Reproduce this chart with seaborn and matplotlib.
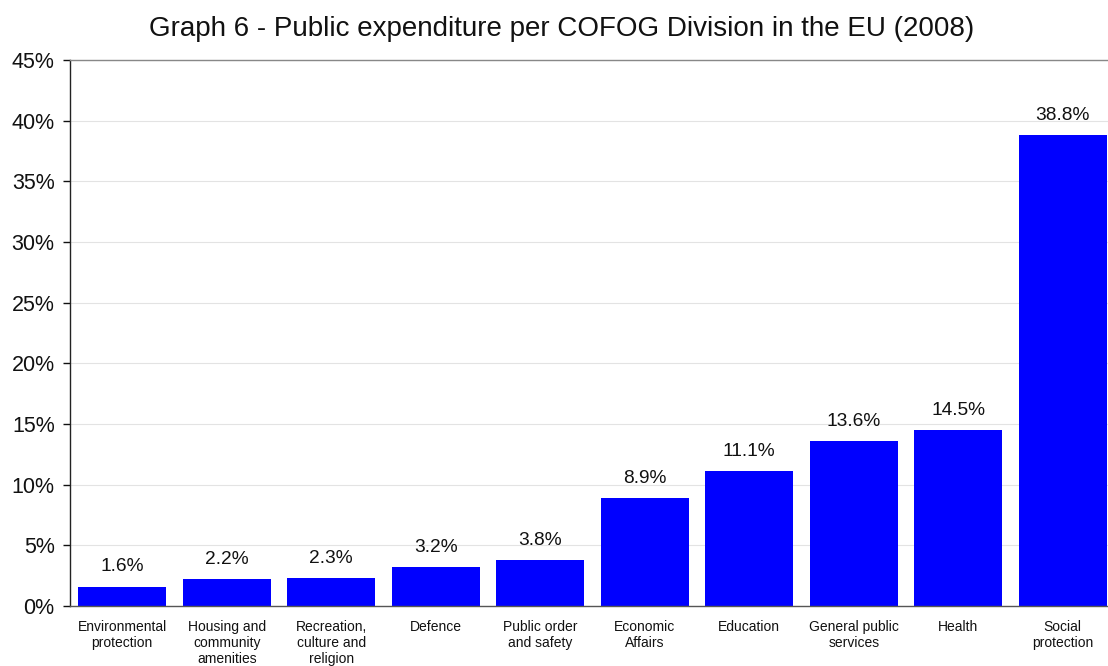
import matplotlib

matplotlib.use("Agg")
import matplotlib.pyplot as plt
import pandas as pd
import seaborn as sns
from matplotlib.ticker import FuncFormatter, MultipleLocator

# ───────────────────────── Data ─────────────────────────

divisions = [
    "Environmental\nprotection",
    "Housing and\ncommunity\namenities",
    "Recreation,\nculture and\nreligion",
    "Defence",
    "Public order\nand safety",
    "Economic\nAffairs",
    "Education",
    "General public\nservices",
    "Health",
    "Social\nprotection",
]
share_pct = [1.6, 2.2, 2.3, 3.2, 3.8, 8.9, 11.1, 13.6, 14.5, 38.8]

title = "Graph 6 - Public expenditure per COFOG Division in the EU (2008)"

# ───────────────────────── Plot ─────────────────────────

sns.set_style("white")
plt.rcParams["font.family"] = ["Liberation Sans", "DejaVu Sans"]

df = pd.DataFrame({"division": divisions, "share": share_pct})

fig = plt.figure(figsize=(11.08, 6.66), dpi=100)
ax = fig.add_axes([70 / 1108, 1 - 606 / 666, (1115 - 70) / 1108, 546 / 666])

sns.barplot(data=df, x="division", y="share", color="#0000FF",
            saturation=1, width=0.84, linewidth=0, ax=ax, zorder=2)

ax.set_xlim(-0.5, len(divisions) - 0.5)
ax.set_ylim(0, 45)
ax.yaxis.set_major_locator(MultipleLocator(5))
ax.yaxis.set_major_formatter(FuncFormatter(lambda v, _: f"{v:.0f}%"))
ax.grid(axis="y", color="#e3e3e3", linewidth=0.8, zorder=0)
ax.set_axisbelow(True)

for c in ax.containers:
    ax.bar_label(c, labels=[f"{v:.1f}%" for v in share_pct],
                 padding=8, fontsize=13.8, color="#111111")

ax.set_xlabel("")
ax.set_ylabel("")
ax.set_xticks(range(len(divisions)))
ax.set_xticklabels(divisions, linespacing=1.2, fontsize=10, color="#111111")
ax.tick_params(axis="x", length=0, pad=10)
ax.tick_params(axis="y", length=5, width=1, left=True, pad=6,
               labelsize=15.5, colors="#111111")

for side in ["left", "bottom", "top"]:
    ax.spines[side].set_visible(True)
    ax.spines[side].set_linewidth(1.0)
ax.spines["left"].set_color("#222222")
ax.spines["bottom"].set_color("#555555")
ax.spines["top"].set_color("#888888")
ax.spines["right"].set_visible(False)

fig.text(562 / 1108, 1 - 36 / 666, title, ha="center", va="baseline",
         fontsize=20, color="#111111")

fig.savefig("out.png", dpi=100)
plt.close(fig)
